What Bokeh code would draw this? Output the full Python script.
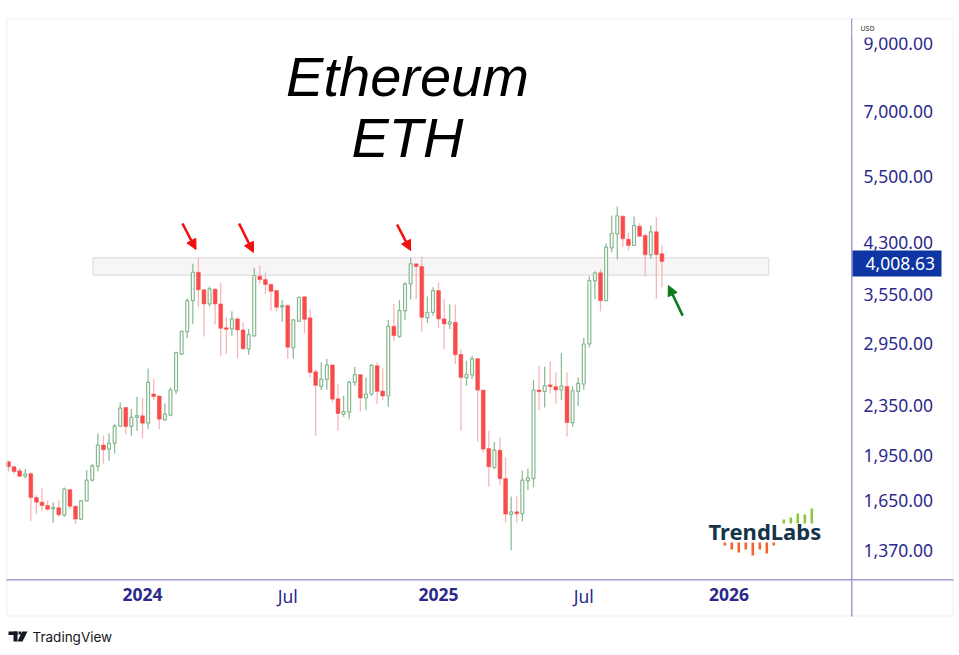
import pandas as pd
from bokeh.embed import file_html
from bokeh.resources import INLINE
from bokeh.plotting import figure
from bokeh.models import (Range1d, FixedTicker, NumeralTickFormatter, ColumnDataSource,
                          BoxAnnotation, PolyAnnotation, Label, Arrow, NormalHead)

first_week = "2023-07-17"
opens = [1905,1870,1842,1806,1822,1668,1640,1620,1600,1606,1563,1718,1616,1540,1648,1780,1875,2027,1997,2042,2175,2331,2172,2246,2260,2199,2450,2432,2226,2266,
 2480,2842,3089,3465,3850,3607,3423,3615,3423,3132,3120,3238,3108,2896,3040,3795,3747,3679,3597,3385,3402,2911,3209,3514,3250,2661,2521,2587,2729,2407,
 2274,2291,2558,2632,2414,2450,2721,2477,2432,3150,3035,3339,3688,3972,3933,3250,3318,3597,3238,3174,3197,2838,2603,2629,2793,2486,2001,1865,1989,1790,
 1567,1582,1572,1775,1790,2487,2474,2534,2518,2487,2520,2204,2474,2543,2950,3729,3842,3465,4216,4441,4741,4352,4252,4568,4413,4108,4474,4123]
highs = [1916,1877,1861,1854,1835,1683,1728,1652,1638,1652,1732,1721,1618,1652,1847,1889,2116,2098,2116,2191,2374,2331,2317,2425,2414,2694,2590,2434,2365,2511,
 2870,3100,3495,3972,4062,3611,3651,3620,3696,3257,3330,3257,3197,3120,3914,3948,3860,3692,3607,3474,3415,3238,3518,3522,3360,2688,2755,2790,2732,2543,
 2434,2574,2711,2639,2606,2739,2755,2694,3226,3423,3474,3710,4062,3972,4082,3518,3642,3710,3487,3415,3415,2896,2772,2824,2800,2490,2137,2051,2085,1936,
 1675,1675,1842,1858,2581,2721,2711,2765,2654,2853,2654,2520,2606,3017,3790,3864,3899,4288,4753,4915,4753,4467,4735,4619,4451,4580,4723,4263]
lows = [1837,1822,1797,1790,1530,1569,1588,1588,1520,1553,1553,1598,1511,1534,1644,1770,1837,1893,1912,1965,2169,2106,2098,2137,2080,2151,2397,2151,2218,2260,
 2450,2835,3017,3178,3381,3032,3389,3170,2824,2842,3043,2800,2885,2835,3032,3688,3553,3339,3327,3205,2790,2796,3205,3069,2606,2098,2487,2490,2374,2137,
 2252,2232,2527,2296,2311,2434,2360,2395,2337,2986,3017,3226,3478,3487,3081,3190,3278,3127,2896,3120,2739,2137,2527,2590,2054,1972,1738,1854,1749,1520,
 1372,1520,1526,1715,1733,2306,2331,2455,2365,2395,2093,2169,2345,2490,2913,3487,3330,3465,4147,4036,4225,4173,4252,4397,3790,4047,3487,3642]
closes = [1870,1837,1806,1822,1668,1640,1620,1598,1608,1565,1721,1616,1540,1648,1780,1877,2027,1992,2042,2175,2325,2172,2246,2262,2199,2558,2428,2232,2274,2487,
 2856,3092,3465,3850,3607,3423,3620,3423,3127,3115,3238,3108,2899,3054,3804,3747,3679,3588,3381,3402,2915,3226,3509,3233,2654,2530,2590,2729,2404,2279,
 2296,2558,2632,2414,2450,2725,2474,2432,3150,3043,3339,3688,3972,3933,3257,3318,3597,3238,3178,3202,2835,2606,2635,2793,2486,1997,1870,1989,1790,1569,
 1582,1571,1780,1795,2487,2471,2527,2518,2487,2524,2204,2480,2549,2950,3733,3842,3465,4225,4446,4748,4359,4252,4580,4401,4108,4474,4112,4008.63]

y_ticks = [1370, 1650, 1950, 2350, 2950, 3550, 4300, 5500, 7000, 9000]
year_ticks = {"2024-01-01": "2024", "2025-01-06": "2025", "2026-01-05": "2026"}
month_ticks = {"2024-07-01": "Jul", "2025-07-07": "Jul"}
last_price = 4008.63
zone_low, zone_high = 3808, 4062
zone_start, zone_end = "2023-10-31", "2026-02-24"
red_arrows = [("2024-02-20", 4614, "2024-03-08", 4189), ("2024-05-01", 4614, "2024-05-19", 4143), ("2024-11-15", 4597, "2024-12-02", 4173)]
green_arrow = ("2025-11-08", 3278, "2025-10-21", 3665)

UP, DOWN = "#84b88f", "#f94b4b"
UPW, DOWNW = "#8fbd98", "#f7b6b6"
AX = "#a09ecb"
TXT = "#2b2a8c"

dates = pd.date_range(first_week, periods=len(opens), freq="7D")
up = [c >= o for o, c in zip(opens, closes)]
def cds(flag):
    idx = [i for i, u in enumerate(up) if u == flag]
    return ColumnDataSource(dict(x=dates[idx], o=[opens[i] for i in idx], c=[closes[i] for i in idx],
                                 h=[highs[i] for i in idx], l=[lows[i] for i in idx]))
su, sd = cds(True), cds(False)

W, H = 955, 650
week = pd.Timedelta(days=7)
p = figure(width=W, height=H, output_backend="svg", toolbar_location=None, y_axis_type="log",
           x_axis_type="datetime", y_axis_location="right",
           x_range=Range1d(dates[0] - week * 1.432, dates[0] + week * 169.56), y_range=Range1d(945.6, 10557),
           min_border_left=0, min_border_right=0, min_border_top=0, min_border_bottom=0)
p.grid.visible = False
p.outline_line_color = None
p.background_fill_color = "white"

def box(x0, y0, x1, y1, color, level="overlay"):
    p.add_layout(BoxAnnotation(left=x0, right=x1, top=H - y0, bottom=H - y1, left_units="screen", right_units="screen",
                               top_units="screen", bottom_units="screen", fill_color=color, fill_alpha=1,
                               line_color=None, level=level))
def text(x, y, s, size, color, font="Noto Sans", style="normal", align="left", level="overlay"):
    p.add_layout(Label(x=x, y=H - y, x_units="screen", y_units="screen", text=s, text_font=font,
                       text_font_style=style, text_font_size=size, text_color=color, text_align=align,
                       text_baseline="middle", level=level))

# zone
p.quad(left=[pd.Timestamp(zone_start)], right=[pd.Timestamp(zone_end)], bottom=[zone_low], top=[zone_high],
       fill_color="#f6f6f7", line_color="#d8d8e0", line_width=1)

bw_up = pd.Timedelta(days=3.6)
bw_dn = pd.Timedelta(days=4.8)
p.segment("x", "h", "x", "l", source=sd, line_color=DOWNW, line_width=1.3)
p.segment("x", "h", "x", "l", source=su, line_color=UPW, line_width=1.3)
p.vbar("x", width=bw_dn, top="o", bottom="c", source=sd, fill_color=DOWN, line_color=DOWN, line_width=0.5)
p.vbar("x", width=bw_up, top="c", bottom="o", source=su, fill_color="white", line_color=UP, line_width=1.2)

# axes
def ms(d):
    return int(pd.Timestamp(d).timestamp() * 1000)
ax_r = p.yaxis[0]
ax_r.fixed_location = ms(dates[0] + week * 150.94)
ax_r.ticker = FixedTicker(ticks=y_ticks)
ax_r.formatter = NumeralTickFormatter(format="0,0.00")
ax_r.axis_line_color = None
ax_r.major_tick_line_color = None
ax_r.minor_tick_line_color = None
ax_r.major_label_text_color = TXT
ax_r.major_label_text_font = "Noto Sans"
ax_r.major_label_text_font_size = "17.5px"
ax_r.major_label_standoff = 6

ax = p.xaxis[0]
ax.fixed_location = 1230
ax.ticker = FixedTicker(ticks=[ms(d) for d in year_ticks])
ax.major_label_overrides = {ms(d): t for d, t in year_ticks.items()}
ax.axis_line_color = None
ax.major_tick_line_color = None
ax.minor_tick_line_color = None
ax.major_label_text_color = TXT
ax.major_label_text_font = "Noto Sans"
ax.major_label_text_font_size = "17.5px"
ax.major_label_text_font_style = "bold"
ax.major_label_standoff = 2
for d, t in month_ticks.items():
    p.add_layout(Label(x=ms(d), y=H - 595, y_units="screen", text=t, text_font="Noto Sans", text_font_size="17.5px",
                       text_color=TXT, text_align="center", text_baseline="middle"))

# panel lines
box(6, 18, 953, 19, "#f0f0f4")
box(6, 615, 953, 616, "#f0f0f4")
box(6, 18, 7, 616, "#f0f0f4")
box(952, 18, 953, 616, "#f0f0f4")
box(6, 578.5, 953, 580, AX)
box(850.5, 18, 852, 616, AX)

# USD tag
box(852, 19, 952, 37, "white")
text(860, 28, "USD", "7px", "#333333")

# price tag
box(852, 250, 941, 276, "#0d35a3")
text(865, 263, f"{last_price:,.2f}", "17.5px", "white")

# title
text(407, 76, "Ethereum", "56px", "#000000", font="Liberation Sans", style="italic", align="center", level="annotation")
text(407, 137, "ETH", "56px", "#000000", font="Liberation Sans", style="italic", align="center", level="annotation")

# arrows
def arrow(a, color):
    p.add_layout(Arrow(x_start=ms(a[0]), y_start=a[1], x_end=ms(a[2]), y_end=a[3], line_color=color, line_width=2.6,
                       end=NormalHead(size=10, fill_color=color, line_color=color)))
for a in red_arrows:
    arrow(a, "#f01010")
arrow(green_arrow, "#0f7a1c")

# TrendLabs logo
text(708, 530, "TrendLabs", "22px", "#15344a", style="bold", level="annotation")
for x, top in zip([782, 789, 796, 803, 810], [519, 517, 513, 514, 508]):
    box(x, top, x + 2.6, 523, "#8cc63f", level="annotation")
for x, bot in zip([723, 730, 737, 744, 751, 758, 765, 772], [545, 549, 552, 549, 555, 549, 553, 545]):
    box(x, 542, x + 2.6, bot, "#f2632f", level="annotation")

# TradingView logo
box(8, 631, 17, 634.5, "#131722")
box(13, 631, 17, 641, "#131722")
p.add_layout(PolyAnnotation(xs=[21.5, 27, 22, 17], ys=[H - 631, H - 631, H - 641, H - 641], xs_units="screen", ys_units="screen",
                            fill_color="#131722", fill_alpha=1, line_color=None, level="overlay"))
box(18, 631, 20.5, 634, "#131722")
text(32, 636, "TradingView", "13.5px", "#131722", font="Inter")

open("out.html", "w").write(file_html(p, INLINE))
